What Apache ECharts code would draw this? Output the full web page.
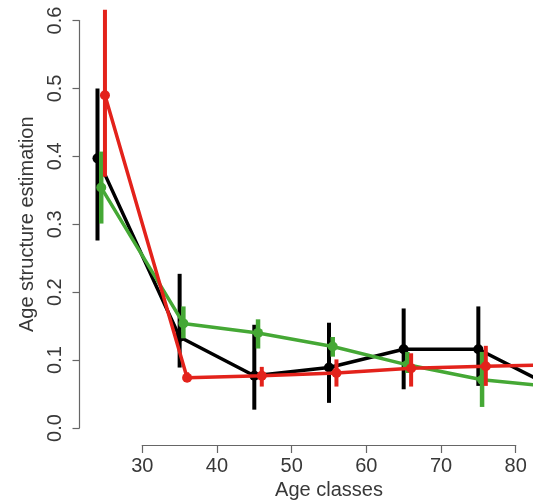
<!DOCTYPE html>
<html>
<head>
<meta charset="utf-8">
<script src="https://cdn.jsdelivr.net/npm/echarts@6/dist/echarts.min.js"></script>
<style>
html,body{margin:0;padding:0;background:#fff;}
#chart{width:533px;height:502px;}
</style>
</head>
<body>
<div id="chart"></div>
<script>
// ---- data ----
var xTicks = [30, 40, 50, 60, 70, 80];
var yTicks = [0.0, 0.1, 0.2, 0.3, 0.4, 0.5, 0.6];

var blackX    = [24, 35, 45, 55, 65, 75, 85];
var blackMean = [0.397, 0.134, 0.077, 0.089, 0.116, 0.116, 0.060];
var blackLow  = [0.276, 0.089, 0.027, 0.037, 0.057, 0.062];
var blackHigh = [0.500, 0.227, 0.152, 0.155, 0.176, 0.179];

var greenX    = [24.5, 35.5, 45.5, 55.5, 65.5, 75.5, 85.5];
var greenMean = [0.354, 0.154, 0.140, 0.120, 0.093, 0.071, 0.060];
var greenLow  = [0.301, 0.132, 0.117, 0.105, 0.081, 0.031];
var greenHigh = [0.407, 0.179, 0.160, 0.134, 0.112, 0.112];

var redX    = [25, 36, 46, 56, 66, 76, 86];
var redMean = [0.490, 0.074, 0.077, 0.081, 0.088, 0.091, 0.093];
var redLow  = [0.370, 0.068, 0.061, 0.061, 0.061, 0.062];
var redHigh = [0.616, 0.082, 0.090, 0.101, 0.110, 0.121];

var COL_BLACK = '#000000';
var COL_GREEN = '#45a835';
var COL_RED = '#e3221b';
var TEXT = '#383838';
var AXIS = '#666666';
var FONT = 'Liberation Sans, Arial, sans-serif';

function pts(xs, ys) { return xs.map(function (x, i) { return [x, ys[i]]; }); }
function bars(xs, lo, hi) { return lo.map(function (l, i) { return [xs[i], l, hi[i]]; }); }

function errSeries(data, color, w, z) {
  return {
    type: 'custom',
    xAxisIndex: 0, yAxisIndex: 0,
    z: z,
    data: data,
    clip: true,
    renderItem: function (params, api) {
      var p1 = api.coord([api.value(0), api.value(1)]);
      var p2 = api.coord([api.value(0), api.value(2)]);
      return {
        type: 'line',
        shape: { x1: p1[0], y1: p1[1], x2: p2[0], y2: p2[1] },
        style: { stroke: color, lineWidth: w }
      };
    },
    silent: true
  };
}
function lineSeries(data, color, z) {
  return {
    type: 'line',
    xAxisIndex: 0, yAxisIndex: 0,
    z: z,
    data: data,
    clip: true,
    symbol: 'circle',
    symbolSize: 10,
    lineStyle: { color: color, width: 3.5 },
    itemStyle: { color: color },
    animation: false,
    silent: true
  };
}

var chart = echarts.init(document.getElementById('chart'));
chart.setOption({
  animation: false,
  backgroundColor: '#ffffff',
  grid: [
    { left: 67.62, right: 0, top: 0, bottom: 6.1 },                 // data
    { left: 142.3, right: 17.3, top: 430, bottom: 57 },             // x axis
    { left: 79.5, width: 5, top: 20.5, bottom: 74 }                 // y axis
  ],
  xAxis: [
    { gridIndex: 0, type: 'value', min: 20, max: 82.32, show: false },
    { gridIndex: 1, type: 'value', min: xTicks[0], max: xTicks[xTicks.length - 1], interval: 10,
      axisLine: { show: true, lineStyle: { color: AXIS, width: 1.2 } },
      axisTick: { show: true, length: 8, lineStyle: { color: AXIS, width: 1.2 } },
      axisLabel: { color: TEXT, fontSize: 20, fontFamily: FONT, margin: 11 },
      splitLine: { show: false },
      name: 'Age classes', nameLocation: 'middle', nameGap: 35,
      nameTextStyle: { color: TEXT, fontSize: 20, fontFamily: FONT } },
    { gridIndex: 2, type: 'value', show: false, min: 0, max: 1 }
  ],
  yAxis: [
    { gridIndex: 0, type: 'value', min: -0.1, max: 0.6302, show: false },
    { gridIndex: 1, type: 'value', show: false, min: 0, max: 1 },
    { gridIndex: 2, type: 'value', min: yTicks[0], max: yTicks[yTicks.length - 1], interval: 0.1,
      position: 'left',
      axisLine: { show: true, lineStyle: { color: AXIS, width: 1.2 } },
      axisTick: { show: true, length: 7, lineStyle: { color: AXIS, width: 1.2 } },
      axisLabel: { color: TEXT, fontSize: 20, fontFamily: FONT, margin: 14, rotate: 90,
        formatter: function (v) { return v.toFixed(1); } },
      splitLine: { show: false },
      name: 'Age structure estimation', nameLocation: 'middle', nameGap: 42, nameRotate: 90,
      nameTextStyle: { color: TEXT, fontSize: 20, fontFamily: FONT } }
  ],
  series: [
    errSeries(bars(blackX, blackLow, blackHigh), COL_BLACK, 4, 1),
    lineSeries(pts(blackX, blackMean), COL_BLACK, 2),
    errSeries(bars(greenX, greenLow, greenHigh), COL_GREEN, 4.5, 3),
    lineSeries(pts(greenX, greenMean), COL_GREEN, 4),
    errSeries(bars(redX, redLow, redHigh), COL_RED, 4, 5),
    lineSeries(pts(redX, redMean), COL_RED, 6)
  ]
});
</script>
</body>
</html>
